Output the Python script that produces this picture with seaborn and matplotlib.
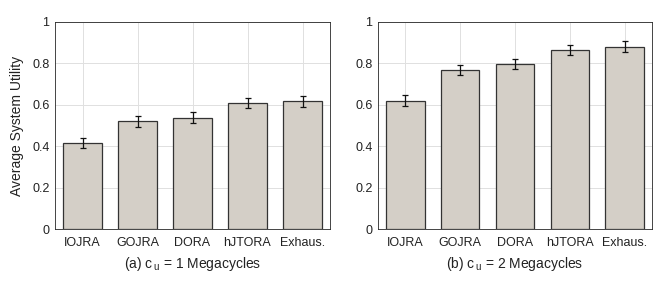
import matplotlib
matplotlib.use("Agg")
import matplotlib.pyplot as plt
import seaborn as sns
import pandas as pd

methods = ["IOJRA", "GOJRA", "DORA", "hJTORA", "Exhaus."]
util_a = [0.415, 0.520, 0.538, 0.610, 0.617]
err_a = [0.026, 0.026, 0.026, 0.025, 0.026]
util_b = [0.620, 0.768, 0.797, 0.865, 0.880]
err_b = [0.026, 0.026, 0.026, 0.025, 0.026]
yticks = [0, 0.2, 0.4, 0.6, 0.8, 1]
ytick_labels = ["0", "0.2", "0.4", "0.6", "0.8", "1"]
titles = [r"(a) c$_{\mathregular{\,u}}$ = 1 Megacycles", r"(b) c$_{\mathregular{\,u}}$ = 2 Megacycles"]

sns.set_theme(style="white")
plt.rcParams["font.family"] = ["Liberation Sans", "DejaVu Sans"]
plt.rcParams["mathtext.fontset"] = "custom"
plt.rcParams["mathtext.rm"] = "Liberation Sans"

fig = plt.figure(figsize=(6.64, 2.81), dpi=100)
ax1 = fig.add_axes([55/664, 1 - 229/281, 275/664, 207/281])
ax2 = fig.add_axes([378/664, 1 - 229/281, 274/664, 207/281])

for ax, vals, errs, title in [(ax1, util_a, err_a, titles[0]), (ax2, util_b, err_b, titles[1])]:
    df = pd.DataFrame({"method": methods, "util": vals})
    sns.barplot(data=df, x="method", y="util", ax=ax, color="#d4cfc7",
                edgecolor="#333333", linewidth=0.9, width=0.7, saturation=1, zorder=2)
    ax.errorbar(range(len(methods)), vals, yerr=errs, fmt="none", ecolor="#111111",
                elinewidth=0.9, capsize=2.2, capthick=0.9, zorder=3)
    ax.set_ylim(0, 1)
    ax.set_xlim(-0.5, len(methods) - 0.5)
    ax.set_yticks(yticks)
    ax.set_yticklabels(ytick_labels)
    ax.grid(True, color="#e0e0e0", linewidth=0.7, zorder=0)
    ax.set_axisbelow(True)
    for s in ax.spines.values():
        s.set_visible(True)
        s.set_color("#262626")
        s.set_linewidth(0.6)
    ax.tick_params(axis="both", direction="in", length=3, width=0.6, color="#262626",
                   labelsize=9, labelcolor="#222222", pad=4)
    ax.tick_params(axis="x", pad=6)
    ax.set_xlabel(title, fontsize=10, color="#222222", labelpad=4)
    ax.set_ylabel("")

ax1.set_ylabel("Average System Utility", fontsize=10, color="#222222", labelpad=6)

fig.savefig("out.png", dpi=100)
